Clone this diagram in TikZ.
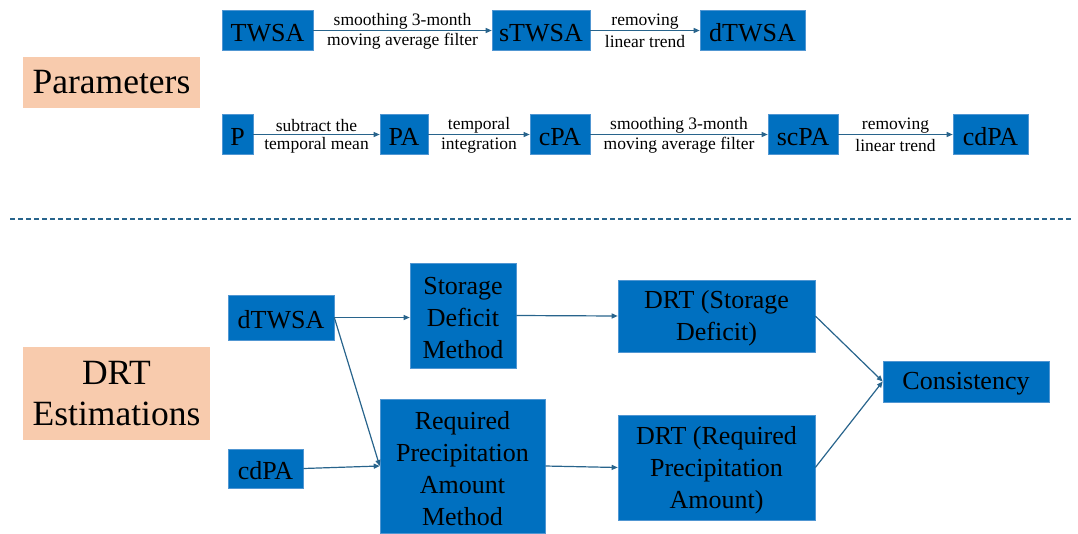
\documentclass[tikz,border=0pt]{standalone}
\usepackage{fontspec}
\setmainfont{LiberationSerif}[Extension=.ttf, UprightFont=*-Regular, BoldFont=*-Bold, ItalicFont=*-Italic, BoldItalicFont=*-BoldItalic]
\usetikzlibrary{arrows.meta}
\definecolor{boxblue}{RGB}{0,112,192}
\definecolor{boxedge}{RGB}{80,150,210}
\definecolor{arrcol}{RGB}{40,100,140}
\definecolor{peach}{RGB}{248,203,173}
\tikzset{
  bx/.style={fill=boxblue, draw=boxedge, line width=0.6pt, inner sep=0pt},
  bt/.style={inner sep=0pt, align=center, font=\fontsize{26}{32}\selectfont, text=black},
  ttl/.style={fill=peach, inner sep=0pt, align=center, font=\fontsize{35.5}{41}\selectfont},
  lbl/.style={inner sep=0pt, font=\fontsize{17.5}{21}\selectfont, text=black},
  arr/.style={draw=arrcol, line width=1.2pt, -{Triangle[length=6pt,width=5pt]}},
}
\newcommand\bxt[5]{%
  \node[bx, minimum width=#3, minimum height=#4] (#1) at (#2) {};
  \node[bt] (#1-t) at ([yshift=-2.5]#1.center) {#5};
}
\begin{document}
\begin{tikzpicture}[x=1pt,y=-1pt]
\useasboundingbox (0,0) rectangle (1078,533);
% titles
\node[ttl, minimum width=177, minimum height=51] (tpar) at (111.5,82.5) {Parameters};
\node[ttl, minimum width=187, minimum height=93] (tdrt) at (116.5,393.5) {DRT\\Estimations};
% row 1
\bxt{twsa}{267.5,30.5}{91}{40}{TWSA}
\bxt{stwsa}{541,30.5}{98}{40}{sTWSA}
\bxt{dtwsa1}{752.5,30.5}{105}{40}{dTWSA}
\draw[arr] (twsa) -- node[lbl, yshift=9]{smoothing 3-month} node[lbl, yshift=-11]{moving average filter} (stwsa);
\draw[arr] (stwsa) -- node[lbl, yshift=9]{removing} node[lbl, yshift=-11]{linear trend} (dtwsa1);
% row 2
\bxt{p}{237.5,134.5}{31}{40}{P}
\bxt{pa}{404,134.5}{48}{40}{PA}
\bxt{cpa}{560,134.5}{60}{40}{cPA}
\bxt{scpa}{803,134.5}{70}{40}{scPA}
\bxt{cdpa1}{990.5,134.5}{75}{40}{cdPA}
\draw[arr] (p) -- node[lbl, yshift=9]{subtract the} node[lbl, yshift=-11]{temporal mean} (pa);
\draw[arr] (pa) -- node[lbl, yshift=9]{temporal} node[lbl, yshift=-11]{integration} (cpa);
\draw[arr] (cpa) -- node[lbl, yshift=9]{smoothing 3-month} node[lbl, yshift=-11]{moving average filter} (scpa);
\draw[arr] (scpa) -- node[lbl, yshift=9]{removing} node[lbl, yshift=-11]{linear trend} (cdpa1);
% separator
\coordinate (sepl) at (10,219);
\coordinate (sepr) at (1072,219);
\draw[arrcol, line width=1.2pt, dash pattern=on 5pt off 3pt] (sepl) -- (sepr);
% lower section
\bxt{dtwsa}{281,317.5}{106}{45}{dTWSA}
\bxt{cdpa}{265.5,468.5}{75}{39}{cdPA}
\bxt{sdm}{463,315.5}{106}{105}{Storage\\Deficit\\Method}
\bxt{rpam}{462.5,466}{165}{134}{Required\\Precipitation\\Amount\\Method}
\bxt{drtsd}{716.5,316}{197}{72}{DRT (Storage\\Deficit)}
\bxt{drtrp}{716.5,467.5}{197}{105}{DRT (Required\\Precipitation\\Amount)}
\bxt{cons}{966,381.5}{166}{41}{Consistency}
\draw[arr] (dtwsa.east) -- (sdm.west |- dtwsa.east);
\draw[arr] (dtwsa.east) -- (rpam.west);
\draw[arr] (cdpa.east) -- (rpam.west);
\draw[arr] (sdm.east) -- (drtsd.west);
\draw[arr] (rpam.east) -- (drtrp.west);
\draw[arr] (drtsd.east) -- (cons.west);
\draw[arr] (drtrp.east) -- (cons.west);
\end{tikzpicture}
\end{document}
